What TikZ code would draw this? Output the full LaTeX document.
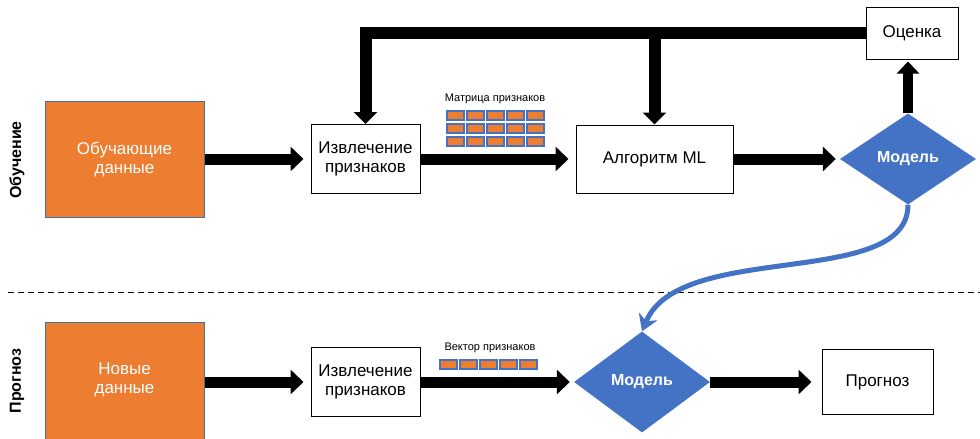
\documentclass[tikz,border=0pt]{standalone}
\usepackage{fontspec}
\setmainfont{Liberation Sans}
\usepackage{tikz}
\usetikzlibrary{arrows.meta}
\usetikzlibrary{shapes.geometric}
\usetikzlibrary{positioning}
\definecolor{orng}{HTML}{ED7D31}
\definecolor{bluey}{HTML}{4472C4}
\definecolor{edgeblue}{HTML}{41719C}
\tikzset{databox/.style = {draw=edgeblue, line width=1pt, fill=orng, text=white,
                           minimum width=159pt, minimum height=116pt, align=center,
                           font=\fontsize{17}{19}\selectfont},
         stepbox/.style = {draw, line width=1pt, fill=white, align=center,
                           font=\fontsize{17}{19}\selectfont},
         model/.style = {diamond, fill=bluey, text=white, aspect=1.5,
                         minimum width=136pt, minimum height=91pt, inner sep=0pt,
                         font=\bfseries\fontsize{16}{18}\selectfont},
         fat/.style = {line width=11pt, -{Triangle[length=13pt, width=24pt]}, shorten >=7pt},
         cell/.style = {draw=bluey, line width=1.3pt, fill=orng},
         rowlabel/.style = {rotate=90, font=\bfseries\fontsize{16}{18}\selectfont}}

\begin{document}
\begin{tikzpicture}[x=1pt, y=-1pt]
      \clip (0, 0) rectangle (980, 439);

      % training
      \node [rowlabel] (lbltrain) at (17, 160) {Обучение};
      \node [databox] (train) at (124.5, 159) {Обучающие\\данные};
      \node [stepbox, minimum width=109pt, minimum height=69pt] (feat1) at (365.5, 159) {Извлечение\\признаков};
      \node [stepbox, minimum width=157pt, minimum height=68pt] (algo) at (654.5, 159) {Алгоритм ML};
      \node [model] (model1) at (908, 159) {Модель};
      \node [stepbox, minimum width=92pt, minimum height=52pt] (score) at (912, 33) {Оценка};

      \node [font=\fontsize{11}{12}\selectfont] (mlabel) at (495, 99) {Матрица признаков};
      \foreach \i in {0,...,4}
        \foreach \j in {0,...,2}
          \draw [cell] ({447 + 20*\i}, {111 + 13*\j}) rectangle ++(17, 9);

      \draw [fat] (train) -- (feat1);
      \draw [fat] (feat1) -- (algo);
      \draw [fat, shorten <=-1pt, shorten >=4pt] (algo) -- (model1);
      \draw [line width=10pt, -{Triangle[length=12pt, width=22pt]}, shorten >=2pt]
            (model1.north) -- (model1.north |- score.south);
      \draw [line width=12pt, line join=miter, -{Triangle[length=12pt, width=23pt]}]
            (score.west) -| (feat1.north);
      \draw [line width=12pt, -{Triangle[length=12pt, width=23pt]}]
            (algo.north |- score.west) -- (algo.north);

      \draw [dashed, line width=1pt, dash pattern=on 6pt off 4pt] (8, 292) -- (980, 292);

      % prediction
      \node [rowlabel] (lblpred) at (17, 381) {Прогноз};
      \node [databox, minimum height=130pt] (new) at (124.5, 387) {};
      \node [text=white, align=center, font=\fontsize{17}{19}\selectfont] (newtxt) at (124.5, 380) {Новые\\данные};
      \node [stepbox, minimum width=109pt, minimum height=69pt] (feat2) at (365.5, 382) {Извлечение\\признаков};
      \node [model, minimum height=101pt] (model2) at (642, 382) {Модель};
      \node [stepbox, minimum width=111pt, minimum height=65pt] (pred) at (877.5, 382) {Прогноз};

      \node [font=\fontsize{11}{12}\selectfont] (vlabel) at (490, 348) {Вектор признаков};
      \foreach \i in {0,...,4}
        \draw [cell] ({440 + 20*\i}, 360) rectangle ++(17, 9);

      \draw [fat] (new.east |- feat2) -- (feat2);
      \draw [fat, shorten >=4pt] (feat2) -- (model2);
      \draw [fat, shorten >=10pt] (model2) -- (pred);

      \draw [bluey, line width=5pt, -{Stealth[length=16pt, width=20pt, inset=5pt]}]
            (model1.south) .. controls (908, 290) and (680, 240) .. (model2.north);
    \end{tikzpicture}
\end{document}
